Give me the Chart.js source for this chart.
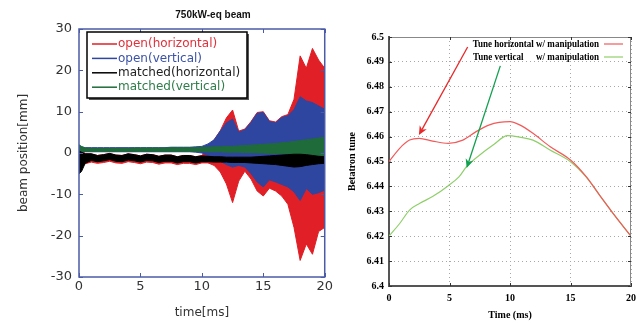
<!DOCTYPE html>
<html>
<head>
<meta charset="utf-8">
<script src="https://cdn.jsdelivr.net/npm/chart.js@4"></script>
<style>
  html, body { margin: 0; padding: 0; background: #fff; }
  #wrap { position: relative; width: 642px; height: 323px; }
  #left { position: absolute; left: 0; top: 0; }
  #right { position: absolute; left: 335px; top: 0; }
</style>
</head>
<body>
<div id="wrap">
  <canvas id="left" width="335" height="323"></canvas>
  <canvas id="right" width="307" height="323"></canvas>
</div>
<script>
// ---- left panel: beam position envelopes (mm) vs time (ms)
const time = [0, 0.2, 0.5, 1, 1.5, 2, 2.5, 3, 3.5, 4, 4.5, 5, 5.5, 6, 6.5, 7, 7.5, 8, 8.5, 9, 9.5, 10,
  10.5, 11, 11.5, 12, 12.5, 13, 13.5, 14, 14.5, 15, 15.5, 16, 16.5, 17, 17.5, 18, 18.5, 19, 19.5, 20];

const redHi = [1.5, 1.0, -0.2, -0.2, -0.6, -0.4, -0.1, -0.5, -0.6, -0.2, -0.4, -0.7, -0.3, -0.4, -0.8, -0.5, -0.5, -0.9, -0.6, -0.6, -0.9, -0.6,
  1.0, 3.2, 5.4, 8.5, 10.4, 5.3, 5.8, 7.6, 9.8, 10.0, 7.8, 7.5, 8.8, 9.3, 13.0, 23.5, 20.5, 25.3, 22.5, 20.5];
const redLo = [-4.0, -3.2, -2.6, -2.2, -2.5, -2.3, -2.0, -2.4, -2.5, -2.1, -2.3, -2.6, -2.2, -2.3, -2.7, -2.4, -2.4, -2.8, -2.5, -2.5, -2.8, -2.4,
  -2.4, -3.0, -4.6, -7.5, -12.0, -6.8, -4.4, -6.3, -9.2, -10.4, -8.5, -9.2, -10.4, -12.4, -18.0, -26.0, -22.0, -24.5, -19.0, -18.0];

const blueHi = [1.8, 1.5, 1.3, 1.3, 1.3, 1.3, 1.3, 1.3, 1.3, 1.3, 1.3, 1.3, 1.3, 1.3, 1.3, 1.3, 1.4, 1.4, 1.4, 1.4, 1.5, 1.6,
  2.2, 3.2, 5.3, 7.3, 8.2, 5.0, 5.6, 7.4, 9.6, 9.8, 7.6, 7.3, 8.6, 9.0, 10.5, 13.6, 12.6, 12.2, 11.4, 10.6];
const blueLo = [0.3, 0.3, 0.3, 0.3, 0.3, 0.3, 0.3, 0.3, 0.3, 0.3, 0.3, 0.3, 0.3, 0.3, 0.3, 0.3, 0.3, 0.3, 0.3, 0.3, 0.2, 0.0,
  -0.6, -1.0, -2.0, -2.8, -3.4, -3.0, -3.4, -5.0, -7.0, -8.2, -6.5, -7.0, -7.6, -8.2, -9.4, -11.5, -8.6, -10.0, -9.6, -9.0];

const blackHi = [0.5, 0.2, -0.2, -0.2, -0.6, -0.4, -0.1, -0.5, -0.6, -0.2, -0.4, -0.7, -0.3, -0.4, -0.8, -0.5, -0.5, -0.9, -0.6, -0.6, -0.9, -0.7,
  -0.8, -0.9, -0.9, -1.0, -1.0, -1.0, -1.0, -1.0, -0.9, -0.8, -0.7, -0.6, -0.5, -0.4, -0.3, -0.3, -0.4, -0.6, -0.8, -0.9];
const blackLo = [-5.0, -4.5, -2.5, -1.8, -2.1, -1.9, -1.6, -2.0, -2.1, -1.7, -1.9, -2.2, -1.8, -1.9, -2.3, -2.0, -2.0, -2.4, -2.1, -2.1, -2.4, -2.1,
  -2.1, -2.2, -2.2, -2.2, -2.3, -2.3, -2.3, -2.4, -2.5, -2.6, -2.7, -2.8, -3.0, -3.2, -3.4, -3.3, -3.0, -2.8, -2.6, -2.5];

const greenHi = [2.0, 1.6, 1.2, 1.1, 1.1, 1.1, 1.1, 1.1, 1.1, 1.1, 1.2, 1.2, 1.2, 1.2, 1.2, 1.2, 1.3, 1.3, 1.3, 1.3, 1.3, 1.4,
  1.4, 1.5, 1.5, 1.6, 1.6, 1.7, 1.8, 1.9, 2.0, 2.1, 2.2, 2.3, 2.5, 2.6, 2.8, 3.0, 3.2, 3.4, 3.6, 3.8];
const greenLo = [-0.8, 0.2, 0.4, 0.4, 0.4, 0.4, 0.4, 0.4, 0.4, 0.4, 0.4, 0.4, 0.4, 0.4, 0.4, 0.4, 0.4, 0.4, 0.4, 0.4, 0.4, 0.4,
  0.3, 0.3, 0.3, 0.2, 0.2, 0.2, 0.1, 0.1, 0.0, 0.0, -0.1, -0.1, -0.2, -0.2, -0.3, -0.3, -0.4, -0.5, -0.6, -0.7];

const seriesNames = ['open(horizontal)', 'open(vertical)', 'matched(horizontal)', 'matched(vertical)'];
const seriesColors = ['#e01f26', '#2f46a0', '#000000', '#1f6b3a'];
const legendTextColors = ['#e0303a', '#3a52a8', '#222222', '#2f7d4a'];

// ---- right panel: betatron tune vs time
const tuneHT = [0, 0.9, 1.7, 2.5, 3.6, 4.9, 6.1, 7.2, 8.3, 9.1, 10, 10.8, 11.9, 13.3, 15, 16.3, 17.4, 18.5, 20];
const tuneH = [6.450, 6.4554, 6.4586, 6.4593, 6.4582, 6.4573, 6.4586, 6.462, 6.4647, 6.4657, 6.466, 6.4647, 6.4613, 6.456, 6.4506, 6.4439, 6.4365, 6.4293, 6.420];
const tuneVT = [0, 0.9, 1.7, 2.55, 3.6, 4.9, 5.8, 6.4, 7.5, 8.6, 9.8, 10.8, 11.9, 13.3, 15, 16.3, 17.4, 18.5, 20];
const tuneV = [6.420, 6.4252, 6.4305, 6.4332, 6.4359, 6.4403, 6.4439, 6.4479, 6.4526, 6.4566, 6.4604, 6.4598, 6.4586, 6.4546, 6.4499, 6.4437, 6.4365, 6.4293, 6.420];

const tuneNames = ['Tune horizontal w/ manipulation', 'w/ manipulation'];
const tuneColors = ['#f25a5a', '#8fcf6a'];
// arrows in data units: [x, y]
const arrowFrom = [[6.5, 6.496], [9.2, 6.4884]];
const arrowTo = [[2.47, 6.4606], [6.42, 6.4474]];
const arrowColors = ['#e82828', '#12a050'];

const pts = (xs, ys) => xs.map((x, i) => ({ x: x, y: ys[i] }));

function band(name, hi, lo, color) {
  const base = { borderColor: color, backgroundColor: color, borderWidth: 1, pointRadius: 0, tension: 0 };
  return [
    Object.assign({ label: name + ' lo', data: pts(time, lo), fill: false }, base),
    Object.assign({ label: name, data: pts(time, hi), fill: '-1' }, base)
  ];
}

function inwardTicks(ctx, a, x, y, len) {
  ctx.beginPath();
  x.ticks.forEach(t => {
    const px = Math.round(x.getPixelForValue(t.value)) + 0.5;
    ctx.moveTo(px, a.bottom); ctx.lineTo(px, a.bottom - len);
    ctx.moveTo(px, a.top); ctx.lineTo(px, a.top + len);
  });
  y.ticks.forEach(t => {
    const py = Math.round(y.getPixelForValue(t.value)) + 0.5;
    ctx.moveTo(a.left, py); ctx.lineTo(a.left + len, py);
    ctx.moveTo(a.right, py); ctx.lineTo(a.right - len, py);
  });
  ctx.stroke();
}

const leftDecor = {
  id: 'leftDecor',
  afterDatasetsDraw(chart) {
    const { ctx, chartArea: a, scales: { x, y } } = chart;
    ctx.save();
    ctx.strokeStyle = '#4b5ba8';
    ctx.lineWidth = 1.5;
    ctx.strokeRect(a.left, a.top, a.right - a.left, a.bottom - a.top);
    ctx.lineWidth = 1;
    inwardTicks(ctx, a, x, y, 4);

    // legend box with shadow
    const bx = a.left + 8, by = a.top + 3, bw = 160, bh = 66;
    ctx.fillStyle = '#555';
    ctx.fillRect(bx + 2, by + 2, bw, bh);
    ctx.fillStyle = '#fff';
    ctx.fillRect(bx, by, bw, bh);
    ctx.strokeStyle = '#000';
    ctx.lineWidth = 1.5;
    ctx.strokeRect(bx, by, bw, bh);
    ctx.font = '12px "DejaVu Sans"';
    ctx.textBaseline = 'middle';
    seriesNames.forEach((n, i) => {
      const ly = by + 12 + i * 14.4;
      ctx.strokeStyle = seriesColors[i];
      ctx.lineWidth = 1.5;
      ctx.beginPath(); ctx.moveTo(bx + 5, ly); ctx.lineTo(bx + 30, ly); ctx.stroke();
      ctx.fillStyle = legendTextColors[i];
      ctx.fillText(n, bx + 31, ly);
    });

    // title
    ctx.fillStyle = '#111';
    ctx.font = 'bold 10px "Liberation Sans"';
    ctx.textAlign = 'center';
    ctx.fillText('750kW-eq beam', 213, 15);
    ctx.restore();
  }
};

const sansTick = { family: 'DejaVu Sans', size: 13 };
const sansTitle = { family: 'DejaVu Sans', size: 12 };

new Chart(document.getElementById('left'), {
  type: 'line',
  data: {
    datasets: [
      ...band('matched(horizontal)', blackHi, blackLo, seriesColors[2]),
      ...band('matched(vertical)', greenHi, greenLo, seriesColors[3]),
      ...band('open(vertical)', blueHi, blueLo, seriesColors[1]),
      ...band('open(horizontal)', redHi, redLo, seriesColors[0])
    ]
  },
  options: {
    responsive: false,
    animation: false,
    layout: { padding: { top: 29, right: 9, left: 0, bottom: 0 } },
    plugins: { legend: { display: false }, tooltip: { enabled: false } },
    scales: {
      x: {
        type: 'linear', min: 0, max: 20,
        ticks: { stepSize: 5, font: sansTick, color: '#333', padding: 2, maxRotation: 0 },
        grid: { display: false, drawTicks: false },
        border: { display: false },
        title: { display: true, text: 'time[ms]', font: sansTitle, color: '#333', padding: { top: 0, bottom: 3 } },
        afterFit: s => { s.height = 46; }
      },
      y: {
        min: -30, max: 30,
        ticks: { stepSize: 10, font: sansTick, color: '#333', padding: 7 },
        grid: { display: false, drawTicks: false },
        border: { display: false },
        title: { display: true, text: 'beam position[mm]', font: sansTitle, color: '#333', padding: { top: 17, bottom: 0 } },
        afterFit: s => { s.width = 79; }
      }
    }
  },
  plugins: [leftDecor]
});

function drawArrow(ctx, x0, y0, x1, y1, color) {
  const ang = Math.atan2(y1 - y0, x1 - x0);
  const hl = 9, hw = 4;
  ctx.strokeStyle = color;
  ctx.fillStyle = color;
  ctx.lineWidth = 1.3;
  ctx.beginPath();
  ctx.moveTo(x0, y0);
  ctx.lineTo(x1 - hl * 0.7 * Math.cos(ang), y1 - hl * 0.7 * Math.sin(ang));
  ctx.stroke();
  ctx.beginPath();
  ctx.moveTo(x1, y1);
  ctx.lineTo(x1 - hl * Math.cos(ang) + hw * Math.sin(ang), y1 - hl * Math.sin(ang) - hw * Math.cos(ang));
  ctx.lineTo(x1 - hl * 0.7 * Math.cos(ang), y1 - hl * 0.7 * Math.sin(ang));
  ctx.lineTo(x1 - hl * Math.cos(ang) - hw * Math.sin(ang), y1 - hl * Math.sin(ang) + hw * Math.cos(ang));
  ctx.closePath();
  ctx.fill();
}

function condensedText(ctx, text, x, y, align, sx) {
  ctx.save();
  ctx.translate(x, y);
  ctx.scale(sx, 1);
  ctx.textAlign = align;
  ctx.fillText(text, 0, 0);
  ctx.restore();
}

const rightDecor = {
  id: 'rightDecor',
  afterDatasetsDraw(chart) {
    const { ctx, chartArea: a, scales: { x, y } } = chart;
    ctx.save();
    ctx.strokeStyle = '#888';
    ctx.lineWidth = 1;
    ctx.beginPath();
    ctx.moveTo(a.left, a.top + 0.5); ctx.lineTo(a.right, a.top + 0.5);
    ctx.moveTo(a.right - 0.5, a.top); ctx.lineTo(a.right - 0.5, a.bottom);
    ctx.stroke();
    ctx.strokeStyle = '#333';
    inwardTicks(ctx, a, x, y, 3);

    // arrows
    arrowFrom.forEach((f, i) => {
      drawArrow(ctx, x.getPixelForValue(f[0]), y.getPixelForValue(f[1]),
        x.getPixelForValue(arrowTo[i][0]), y.getPixelForValue(arrowTo[i][1]), arrowColors[i]);
    });

    // key
    ctx.fillStyle = '#000';
    ctx.font = 'bold 11px "Liberation Serif"';
    ctx.textBaseline = 'middle';
    const kx = 264, ky = 44;
    condensedText(ctx, tuneNames[0], kx, ky, 'right', 0.82);
    condensedText(ctx, 'Tune vertical', 138, ky + 13, 'left', 0.82);
    condensedText(ctx, tuneNames[1], kx, ky + 13, 'right', 0.82);
    tuneColors.forEach((c, i) => {
      ctx.strokeStyle = c;
      ctx.lineWidth = 1.2;
      ctx.beginPath();
      ctx.moveTo(kx + 5, ky + i * 13); ctx.lineTo(kx + 24, ky + i * 13);
      ctx.stroke();
    });
    ctx.restore();
  }
};

const serifTick = { family: 'Liberation Serif', size: 10, weight: 'bold' };

new Chart(document.getElementById('right'), {
  type: 'line',
  data: {
    datasets: [
      { label: tuneNames[0], data: pts(tuneHT, tuneH), borderColor: tuneColors[0], borderWidth: 1.2, pointRadius: 0, cubicInterpolationMode: 'monotone', fill: false },
      { label: 'Tune vertical w/ manipulation', data: pts(tuneVT, tuneV), borderColor: tuneColors[1], borderWidth: 1.2, pointRadius: 0, cubicInterpolationMode: 'monotone', fill: false }
    ]
  },
  options: {
    responsive: false,
    animation: false,
    layout: { padding: { top: 37, right: 10, left: 0, bottom: 0 } },
    plugins: { legend: { display: false }, tooltip: { enabled: false } },
    scales: {
      x: {
        type: 'linear', min: 0, max: 20,
        ticks: { stepSize: 5, font: serifTick, color: '#000', padding: 6, maxRotation: 0 },
        grid: { color: '#a8a8a8', drawTicks: false },
        border: { display: true, color: '#555', width: 2, dash: [1, 3] },
        title: { display: true, text: 'Time (ms)', font: serifTick, color: '#000', padding: { top: 0, bottom: 2 } },
        afterFit: s => { s.height = 37; }
      },
      y: {
        min: 6.4, max: 6.5,
        ticks: { stepSize: 0.01, font: serifTick, color: '#000', padding: 5, callback: v => String(+v.toFixed(2)) },
        grid: { color: '#a8a8a8', drawTicks: false },
        border: { display: true, color: '#555', width: 2, dash: [1, 3] },
        title: { display: true, text: 'Betatron tune', font: serifTick, color: '#000', padding: { top: 11, bottom: 0 } },
        afterFit: s => { s.width = 54; }
      }
    }
  },
  plugins: [rightDecor]
});
</script>
</body>
</html>
